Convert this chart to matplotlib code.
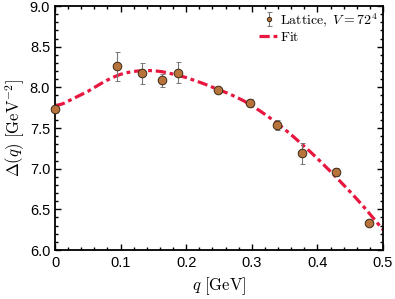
import matplotlib
matplotlib.use("Agg")
import matplotlib.pyplot as plt
from matplotlib.ticker import MultipleLocator

# Lattice data
q_lat = [0.0, 0.0945, 0.133, 0.163, 0.1875, 0.248, 0.297, 0.338, 0.376, 0.428, 0.479]
d_lat = [7.73, 8.26, 8.175, 8.09, 8.18, 7.97, 7.81, 7.54, 7.19, 6.96, 6.33]
e_lat = [0.02, 0.18, 0.13, 0.08, 0.13, 0.04, 0.05, 0.06, 0.13, 0.05, 0.04]

# Fit curve (sampled every 0.0125 GeV)
q_fit = [0.0, 0.0125, 0.025, 0.0375, 0.05, 0.0625, 0.075, 0.0875, 0.1, 0.1125,
         0.125, 0.1375, 0.15, 0.1625, 0.175, 0.1875, 0.2, 0.2125, 0.225, 0.2375,
         0.25, 0.2625, 0.275, 0.2875, 0.3, 0.3125, 0.325, 0.3375, 0.35, 0.3625,
         0.375, 0.3875, 0.4, 0.4125, 0.425, 0.4375, 0.45, 0.4625, 0.475, 0.4875, 0.5]
d_fit = [7.77, 7.80, 7.85, 7.90, 7.95, 8.01, 8.07, 8.12, 8.16, 8.185,
         8.20, 8.207, 8.205, 8.193, 8.172, 8.148, 8.12, 8.085, 8.05, 8.01,
         7.97, 7.93, 7.885, 7.835, 7.775, 7.71, 7.64, 7.565, 7.485, 7.40,
         7.31, 7.22, 7.125, 7.025, 6.925, 6.82, 6.715, 6.605, 6.49, 6.37, 6.25]

xticks = [0, 0.1, 0.2, 0.3, 0.4, 0.5]
xticklabels = ["0", "0.1", "0.2", "0.3", "0.4", "0.5"]
yticks = [6.0, 6.5, 7.0, 7.5, 8.0, 8.5, 9.0]
yticklabels = ["6.0", "6.5", "7.0", "7.5", "8.0", "8.5", "9.0"]

plt.rcParams["mathtext.fontset"] = "cm"
plt.rcParams["font.family"] = ["Liberation Sans", "DejaVu Sans"]

fig = plt.figure(figsize=(3.95, 2.99), dpi=100)
ax = fig.add_axes([55/395, 1-250/299, (383-55)/395, (250-6)/299])

fit_line, = ax.plot(q_fit, d_fit, color="#e8173f", lw=2.3,
                    linestyle=(0, (3.2, 1.2, 1.2, 1.2)), zorder=2, clip_on=False)
lat = ax.errorbar(q_lat, d_lat, yerr=e_lat, fmt="o", ms=6.2, mfc="#b8733a", mec="#3a2a1a",
                  mew=0.7, ecolor="#777777", elinewidth=0.8, capsize=1.8, capthick=0.8,
                  zorder=3, clip_on=False)

ax.set_xlim(0, 0.5)
ax.set_ylim(6.0, 9.0)
ax.set_xticks(xticks)
ax.set_xticklabels(xticklabels)
ax.set_yticks(yticks)
ax.set_yticklabels(yticklabels)
ax.xaxis.set_minor_locator(MultipleLocator(0.02))
ax.yaxis.set_minor_locator(MultipleLocator(0.1))
ax.tick_params(which="both", direction="in", top=True, right=True, labelsize=10.5, width=1.0)
ax.tick_params(which="major", length=4)
ax.tick_params(which="minor", length=2)
ax.tick_params(axis="x", which="major", pad=4)
for s in ax.spines.values():
    s.set_linewidth(1.3)

ax.set_xlabel(r"$q\ [\mathrm{GeV}]$", fontsize=12, labelpad=4)
ax.set_ylabel(r"$\Delta(q)\ [\mathrm{GeV}^{-2}]$", fontsize=12, labelpad=2)

leg = ax.legend([lat, fit_line], [r"$\mathrm{Lattice},\ V=72^4$", r"$\mathrm{Fit}$"],
                loc="upper right", frameon=False, fontsize=10, markerscale=0.5,
                handlelength=1.4, handletextpad=0.15, borderaxespad=0.15,
                labelspacing=0.1, borderpad=0.2)

fig.savefig("out.png", dpi=100)
